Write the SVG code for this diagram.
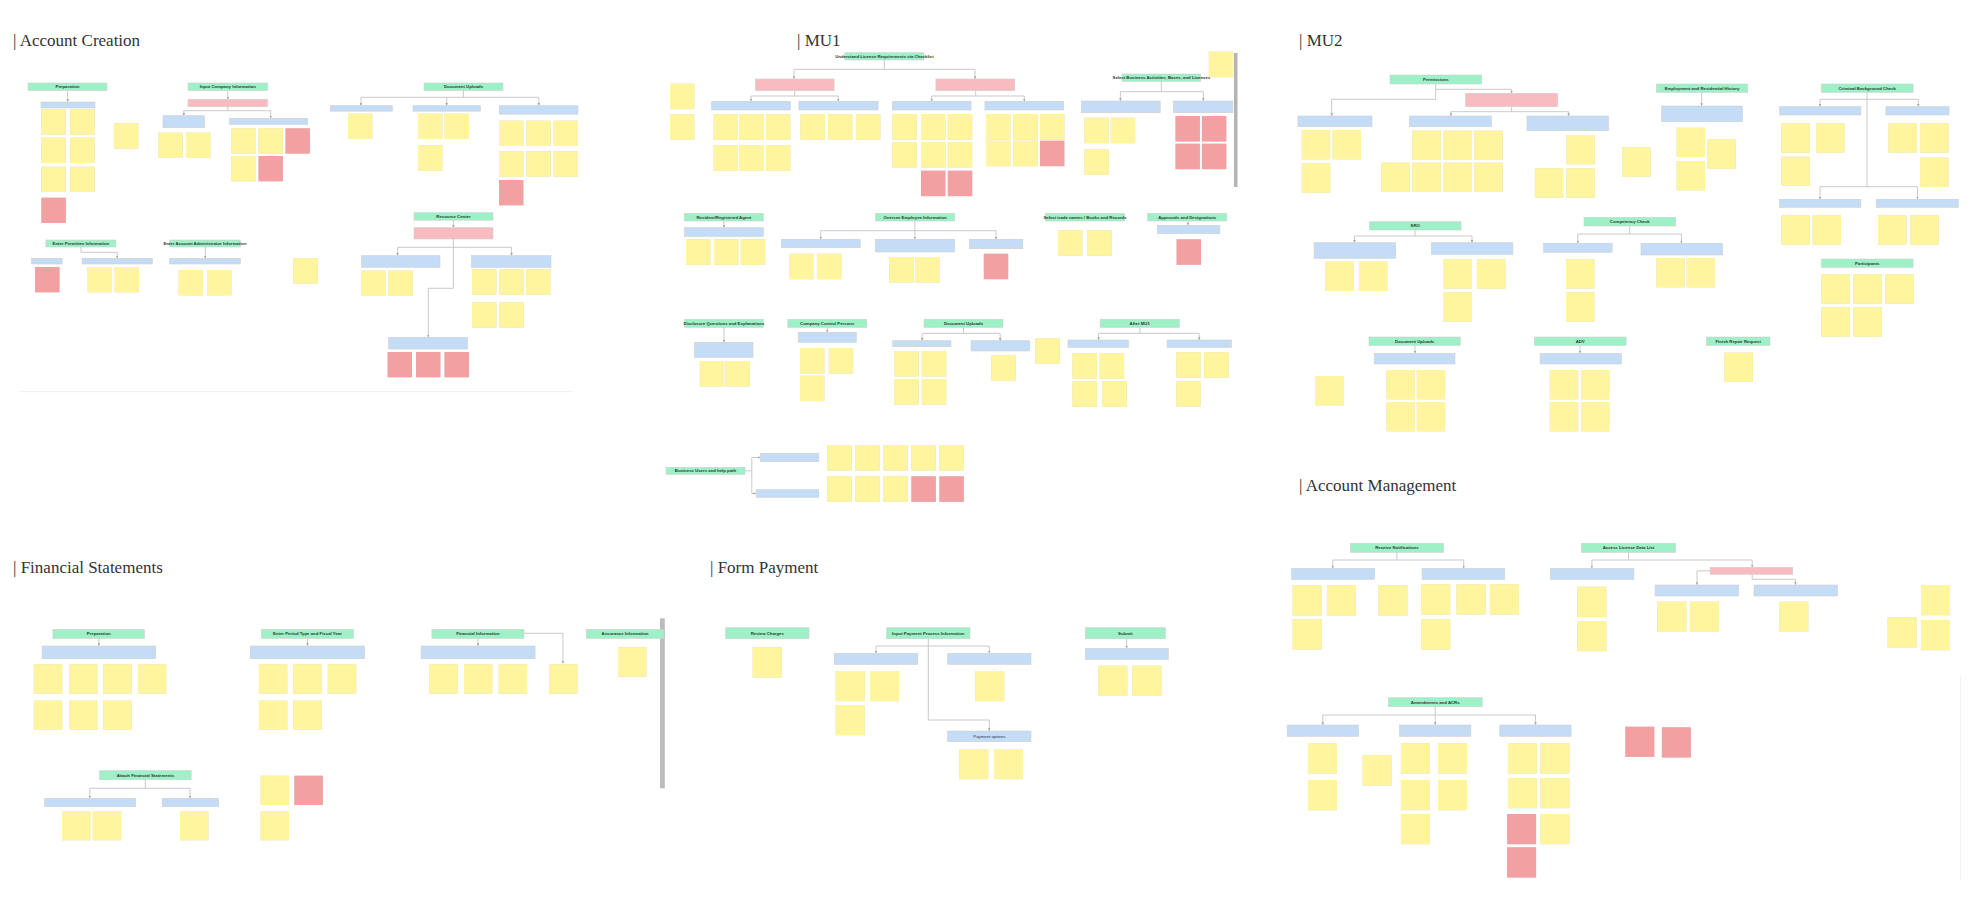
<svg xmlns="http://www.w3.org/2000/svg" width="1978" height="898" viewBox="0 0 1978 898">
<style>
.g{fill:#9ef0c6;stroke:#cfcfcf;stroke-width:.6}
.b{fill:#c5dcf6;stroke:#cfcfcf;stroke-width:.6}
.p{fill:#f8bcc0;stroke:#cfcfcf;stroke-width:.6}
.y{fill:#fff59e;filter:drop-shadow(0 .6px .5px rgba(0,0,0,.18))}
.r{fill:#f3a0a3;filter:drop-shadow(0 .6px .5px rgba(0,0,0,.18))}
.s1{width:24.4px;height:25.3px}
.s2{width:24.4px;height:25.5px}
.s3{width:28.4px;height:29.3px}
.s4{width:29px;height:30.2px}
.c{fill:none;stroke:#c4c4c4;stroke-width:.9}
.t{font-family:"Liberation Sans",Arial,sans-serif;font-weight:bold;font-size:4.3px;fill:#2b3a33;text-anchor:middle}
.bt{font-family:"Liberation Sans",Arial,sans-serif;font-size:4.3px;fill:#2b3550;text-anchor:middle}
.h{font-family:"Liberation Serif","Times New Roman",serif;font-size:17px;fill:#333}
</style>
<defs>
<marker id="a" viewBox="0 0 6 6" refX="6" refY="3" markerWidth="3" markerHeight="3" orient="auto"><path d="M0,0 L6,3 L0,6 z" fill="#a8a8a8"/></marker>
</defs>
<rect width="1978" height="898" fill="#ffffff"/>

<g id="titles">
<text class="h" x="13" y="46">| Account Creation</text>
<text class="h" x="797" y="46">| MU1</text>
<text class="h" x="1299" y="46">| MU2</text>
<text class="h" x="1299" y="491">| Account Management</text>
<text class="h" x="13" y="573">| Financial Statements</text>
<text class="h" x="710" y="573">| Form Payment</text>
</g>

<g id="connectors" marker-end="url(#a)">
<!-- Account Creation -->
<path class="c" d="M67.7 90.5 V101.7"/>
<path class="c" d="M227.8 90.5 V99.3"/>
<path class="c" d="M227.8 106.7 V110.7 H183.8 V115.7"/>
<path class="c" d="M227.8 110.7 H270.7 V118.3"/>
<path class="c" d="M463.4 90.5 V97.3 H361 V105.7"/>
<path class="c" d="M463.4 97.3 H538.8 V105.7"/>
<path class="c" d="M446.7 97.3 V105.7"/>
<path class="c" d="M453.4 220 V227.7"/>
<path class="c" d="M453.4 239 V247.3 H397.6 V255.7"/>
<path class="c" d="M453.4 247.3 H511.5 V255.7"/>
<path class="c" d="M453.4 247.3 V288.3 H428.3 V337.3"/>
<path class="c" d="M81 247 V252.3 H117.2 V258.3"/>
<path class="c" d="M205.3 247 V258.3"/>
<!-- MU1 -->
<path class="c" d="M884.3 60 V69.3 H794 V79"/>
<path class="c" d="M884.3 69.3 H975 V79"/>
<path class="c" d="M794.7 90.7 V96 H751 V101.3"/>
<path class="c" d="M794.7 96 H838.3 V101.3"/>
<path class="c" d="M975.7 90.7 V96 H931.7 V101.3"/>
<path class="c" d="M975.7 96 H1024.3 V101.3"/>
<path class="c" d="M1161.3 81.3 V91.7 H1120.4 V101"/>
<path class="c" d="M1161.3 91.7 H1203.4 V101"/>
<path class="c" d="M724 221 V227.7"/>
<path class="c" d="M914.9 221 V230.7 H820.7 V239.3"/>
<path class="c" d="M914.9 230.7 H996 V239.3"/>
<path class="c" d="M914.9 230.7 V239.3"/>
<path class="c" d="M1188 221 V225.3"/>
<path class="c" d="M724 327.3 V342.3"/>
<path class="c" d="M827.2 327.3 V332.3"/>
<path class="c" d="M963.5 327.3 V333.3 H922.2 V340.7"/>
<path class="c" d="M963.5 333.3 H1000.2 V340.7"/>
<path class="c" d="M1139.9 327.3 V333.3 H1098.6 V340"/>
<path class="c" d="M1139.9 333.3 H1199.2 V340"/>
<path class="c" d="M745 470.8 H751.8 V457.5 H760.3"/>
<path class="c" d="M751.8 470.8 V493.5 H756.1"/>
<!-- MU2 -->
<path class="c" d="M1435.7 84 V89.3 H1511.6 V93.3"/>
<path class="c" d="M1435.7 89.3 V99.3 H1331.7 V116"/>
<path class="c" d="M1511.6 106.7 V111.7 H1451 V116"/>
<path class="c" d="M1511.6 111.7 H1568.6 V116"/>
<path class="c" d="M1701.6 92.3 V106"/>
<path class="c" d="M1867 92.3 V99.3 H1820 V106.7"/>
<path class="c" d="M1867 99.3 H1918.3 V106.7"/>
<path class="c" d="M1867 99.3 V186.7 H1820 V199.3"/>
<path class="c" d="M1867 186.7 H1917.5 V199.3"/>
<path class="c" d="M1415 230 V236 H1354.5 V242.7"/>
<path class="c" d="M1415 236 H1472 V242.7"/>
<path class="c" d="M1629.6 226 V234 H1577.8 V243.3"/>
<path class="c" d="M1629.6 234 H1681.4 V243.3"/>
<path class="c" d="M1415 345.3 V353.3"/>
<path class="c" d="M1580 345.3 V353.3"/>
<!-- Account Management -->
<path class="c" d="M1396.9 552.3 V560 H1332.8 V568.3"/>
<path class="c" d="M1396.9 560 H1463.7 V568.3"/>
<path class="c" d="M1628.5 552.3 V560 H1591.9 V568.3"/>
<path class="c" d="M1628.5 560 H1752.2 V567.3"/>
<path class="c" d="M1752.2 574.3 V579.3 H1795.5 V585"/>
<path class="c" d="M1710.2 570.8 H1697 V585"/>
<path class="c" d="M1435.2 706.7 V715 H1322.8 V725"/>
<path class="c" d="M1435.2 715 H1535.5 V725"/>
<path class="c" d="M1435.2 715 V725"/>
<!-- Financial Statements -->
<path class="c" d="M98.9 638.3 V646"/>
<path class="c" d="M307.5 638.3 V646"/>
<path class="c" d="M477.9 638.3 V646"/>
<path class="c" d="M523.9 633.3 H562.9 V663.5"/>
<path class="c" d="M145.3 779.7 V788.3 H89.8 V798.3"/>
<path class="c" d="M145.3 788.3 H190 V798.3"/>
<!-- Form Payment -->
<path class="c" d="M928.3 638.7 V646 H876 V653.3"/>
<path class="c" d="M928.3 646 H989.3 V653.3"/>
<path class="c" d="M928.3 646 V720 H989.3 V731"/>
<path class="c" d="M1126.7 638.7 V648.3"/>
</g>

<g id="guides">
<path d="M20 391.7 H573" stroke="#efefef" stroke-width="1" fill="none"/>
<path d="M1960.7 677 V880" stroke="#f2f2f2" stroke-width="1" fill="none"/>
<rect x="1234" y="53" width="3.5" height="134" fill="#b4b4b4"/>
<rect x="660" y="618.3" width="4.8" height="170" fill="#bcbcbc"/>
</g>

<!-- ===================== ACCOUNT CREATION ===================== -->
<g id="ac-preparation">
<rect class="g" x="28" y="83" width="79" height="7.5"/><text class="t" x="67.5" y="88.3">Preparation</text>
<rect class="b" x="41" y="102" width="54" height="6"/>
<rect class="y s1" x="41.4" y="109.3"/><rect class="y s1" x="70.3" y="109.3"/>
<rect class="y s1" x="41.4" y="137.7"/><rect class="y s1" x="70.3" y="137.7"/>
<rect class="y s1" x="41.4" y="166.7"/><rect class="y s1" x="70.3" y="166.7"/>
<rect class="r s1" x="41.4" y="197.7"/>
<rect class="y s1" x="113.9" y="123.3"/>
</g>
<g id="ac-input-company">
<rect class="g" x="188" y="83" width="79.5" height="7.5"/><text class="t" x="227.8" y="88.3">Input Company Information</text>
<rect class="p" x="188" y="99.3" width="79.5" height="7.4"/>
<rect class="b" x="163" y="115.7" width="41.5" height="12"/>
<rect class="b" x="229.3" y="118.3" width="78.4" height="6"/>
<rect class="y s1" x="158.3" y="132.7"/><rect class="y s1" x="186" y="132.7"/>
<rect class="y s1" x="231.5" y="128.3"/><rect class="y s1" x="258.5" y="128.3"/><rect class="r s1" x="285.5" y="128.3"/>
<rect class="y s1" x="231.5" y="156"/><rect class="r s1" x="258.5" y="156"/>
</g>
<g id="ac-document-uploads">
<rect class="g" x="424" y="83" width="79" height="7.5"/><text class="t" x="463.5" y="88.3">Document Uploads</text>
<rect class="b" x="330.3" y="105.7" width="62" height="5.5"/>
<rect class="b" x="413" y="105.7" width="67.4" height="5.5"/>
<rect class="b" x="499.3" y="105.7" width="78.7" height="8.5"/>
<rect class="y s1" x="348" y="113.7"/>
<rect class="y s1" x="418" y="113.7"/><rect class="y s1" x="444.6" y="113.7"/><rect class="y s1" x="418" y="145.3"/>
<rect class="y s1" x="499" y="120.7"/><rect class="y s1" x="526.3" y="120.7"/><rect class="y s1" x="553.6" y="120.7"/>
<rect class="y s1" x="499" y="151.3"/><rect class="y s1" x="526.3" y="151.3"/><rect class="y s1" x="553.6" y="151.3"/>
<rect class="r s1" x="499" y="180"/>
</g>
<g id="ac-resource-center">
<rect class="g" x="414" y="212.7" width="79" height="7.5"/><text class="t" x="453.5" y="218">Resource Center</text>
<rect class="p" x="414" y="227.7" width="79" height="11.3"/>
<rect class="b" x="361.7" y="255.7" width="78.3" height="11.6"/>
<rect class="b" x="471.5" y="255.7" width="79.5" height="11.6"/>
<rect class="y s1" x="361" y="270.7"/><rect class="y s1" x="388.3" y="270.7"/>
<rect class="y s1" x="472" y="269.3"/><rect class="y s1" x="499.3" y="269.3"/><rect class="y s1" x="526" y="269.3"/>
<rect class="y s1" x="472" y="302.3"/><rect class="y s1" x="499.3" y="302.3"/>
<rect class="b" x="388.7" y="337.3" width="78.8" height="11.7"/>
<rect class="r s1" x="387.6" y="352"/><rect class="r s1" x="416" y="352"/><rect class="r s1" x="444.5" y="352"/>
</g>
<g id="ac-permittee">
<rect class="g" x="45.9" y="240" width="70" height="7"/><text class="t" x="80.9" y="245">Enter Permittee Information</text>
<rect class="b" x="31.4" y="258.3" width="30.7" height="5.7"/>
<rect class="b" x="82.1" y="258.3" width="70.3" height="5.7"/>
<rect class="r s1" x="35.1" y="267"/>
<rect class="y s1" x="87.6" y="267"/><rect class="y s1" x="114.6" y="267"/>
</g>
<g id="ac-admin">
<rect class="g" x="169.7" y="240" width="70.7" height="7"/><text class="t" x="205" y="245">Enter Account Administrator Information</text>
<rect class="b" x="169.7" y="258.3" width="70.7" height="5.7"/>
<rect class="y s1" x="178.6" y="270"/><rect class="y s1" x="207" y="270"/>
<rect class="y s1" x="293.3" y="258.3"/>
</g>

<!-- ===================== MU1 ===================== -->
<g id="mu1-checklist">
<rect class="g" x="844.8" y="52.7" width="79.2" height="7.3"/><text class="t" x="884.4" y="57.8">Understand License Requirements via Checklist</text>
<rect class="p" x="755.3" y="79" width="78.8" height="11.7"/>
<rect class="p" x="935.9" y="79" width="78.9" height="11.7"/>
<rect class="b" x="711.7" y="101.3" width="78.8" height="8.7"/>
<rect class="b" x="798.9" y="101.3" width="79.2" height="8.7"/>
<rect class="b" x="892.3" y="101.3" width="78.8" height="8.7"/>
<rect class="b" x="984.9" y="101.3" width="78.8" height="8.7"/>
<rect class="y s2" x="713.6" y="114.3"/><rect class="y s2" x="739.6" y="114.3"/><rect class="y s2" x="766" y="114.3"/>
<rect class="y s2" x="713.6" y="145.3"/><rect class="y s2" x="739.6" y="145.3"/><rect class="y s2" x="766" y="145.3"/>
<rect class="y s2" x="800.5" y="114.3"/><rect class="y s2" x="828" y="114.3"/><rect class="y s2" x="856" y="114.3"/>
<rect class="y s2" x="892.3" y="114"/><rect class="y s2" x="921" y="114"/><rect class="y s2" x="947.8" y="114"/>
<rect class="y s2" x="892.3" y="142"/><rect class="y s2" x="921" y="142"/><rect class="y s2" x="947.8" y="142"/>
<rect class="r s2" x="921" y="170.7"/><rect class="r s2" x="947.8" y="170.7"/>
<rect class="y s2" x="986" y="114"/><rect class="y s2" x="1013.2" y="114"/><rect class="y s2" x="1040" y="114"/>
<rect class="y s2" x="986" y="140.7"/><rect class="y s2" x="1013.2" y="140.7"/><rect class="r s2" x="1040" y="140.7"/>
<rect class="y s2" x="670" y="83.7"/><rect class="y s2" x="670" y="114.3"/>
</g>
<g id="mu1-business-activities">
<rect class="g" x="1122" y="74" width="78.8" height="7.3"/><text class="t" x="1161.4" y="79.1">Select Business Activities, Bases, and Licenses</text>
<rect class="b" x="1081.4" y="101" width="78.8" height="11.7"/>
<rect class="b" x="1173.6" y="101" width="59.3" height="11.7"/>
<rect class="y s2" x="1084.4" y="117.7"/><rect class="y s2" x="1110.8" y="117.7"/><rect class="y s2" x="1084.4" y="149.3"/>
<rect class="r s2" x="1175.5" y="116"/><rect class="r s2" x="1201.9" y="116"/>
<rect class="r s2" x="1175.5" y="143.7"/><rect class="r s2" x="1201.9" y="143.7"/>
<rect class="y s2" x="1208.8" y="51.7"/>
</g>
<g id="mu1-registered-agent">
<rect class="g" x="684.5" y="213.3" width="78.8" height="7.7"/><text class="t" x="723.9" y="218.6">Resident/Registered Agent</text>
<rect class="b" x="684.5" y="227.7" width="78.8" height="8.6"/>
<rect class="y s2" x="686" y="239.3"/><rect class="y s2" x="714" y="239.3"/><rect class="y s2" x="740.8" y="239.3"/>
</g>
<g id="mu1-employee">
<rect class="g" x="875.5" y="213.3" width="79.2" height="7.7"/><text class="t" x="915.1" y="218.6">Oversee Employee Information</text>
<rect class="b" x="781.3" y="239.3" width="78.9" height="8.4"/>
<rect class="b" x="875.5" y="239.3" width="79.2" height="12.7"/>
<rect class="b" x="969.6" y="239.3" width="53.2" height="9.4"/>
<rect class="y s2" x="789" y="253.7"/><rect class="y s2" x="816.9" y="253.7"/>
<rect class="y s2" x="889.2" y="257"/><rect class="y s2" x="915.6" y="257"/>
<rect class="r s2" x="983.8" y="253.7"/>
</g>
<g id="mu1-trade-names">
<rect class="g" x="1045.4" y="213.3" width="79.2" height="7.7"/><text class="t" x="1085" y="218.6">Select trade names / Books and Records</text>
<rect class="y s2" x="1058" y="230.3"/><rect class="y s2" x="1087.1" y="230.3"/>
</g>
<g id="mu1-approvals">
<rect class="g" x="1147.6" y="213.3" width="79.2" height="7.7"/><text class="t" x="1187.2" y="218.6">Approvals and Designations</text>
<rect class="b" x="1157.5" y="225.3" width="62.4" height="8.4"/>
<rect class="r s2" x="1176.6" y="239.3"/>
</g>
<g id="mu1-disclosure">
<rect class="g" x="684.5" y="319.3" width="78.8" height="8"/><text class="t" x="723.9" y="324.8">Disclosure Questions and Explanations</text>
<rect class="b" x="694.4" y="342.3" width="58.6" height="15"/>
<rect class="y s2" x="699.8" y="361"/><rect class="y s2" x="725.4" y="361"/>
</g>
<g id="mu1-control-persons">
<rect class="g" x="787.8" y="319.3" width="78.9" height="8"/><text class="t" x="827.2" y="324.8">Company Control Persons</text>
<rect class="b" x="798.2" y="332.3" width="58.1" height="10"/>
<rect class="y s2" x="800" y="348"/><rect class="y s2" x="828.8" y="348"/><rect class="y s2" x="800" y="375.7"/>
</g>
<g id="mu1-document-uploads">
<rect class="g" x="924" y="319.3" width="78.9" height="8"/><text class="t" x="963.5" y="324.8">Document Uploads</text>
<rect class="b" x="892.7" y="340.7" width="58.2" height="6"/>
<rect class="b" x="971.1" y="340.7" width="58.6" height="10.3"/>
<rect class="y s2" x="894.2" y="351"/><rect class="y s2" x="921.8" y="351"/>
<rect class="y s2" x="894.2" y="379"/><rect class="y s2" x="921.8" y="379"/>
<rect class="y s2" x="991.4" y="355.3"/>
<rect class="y s2" x="1035.4" y="338.3"/>
</g>
<g id="mu1-after">
<rect class="g" x="1100.1" y="319.3" width="79.2" height="8"/><text class="t" x="1139.7" y="324.8">After MU1</text>
<rect class="b" x="1068" y="340" width="60.4" height="7.3"/>
<rect class="b" x="1167.1" y="340" width="64.3" height="7.3"/>
<rect class="y s2" x="1072.5" y="353.3"/><rect class="y s2" x="1099.7" y="353.3"/>
<rect class="y s2" x="1072.5" y="381.3"/><rect class="y s2" x="1102.3" y="381.3"/>
<rect class="y s2" x="1176.3" y="352.3"/><rect class="y s2" x="1204.2" y="352.3"/><rect class="y s2" x="1176.3" y="381"/>
</g>
<g id="mu1-help-path">
<rect class="g" x="666.1" y="467.3" width="78.9" height="7"/><text class="t" x="705.5" y="472.3">Business Users and help path</text>
<rect class="b" x="760.3" y="453.3" width="58.5" height="8.4"/>
<rect class="b" x="756.1" y="489.7" width="62.7" height="7.6"/>
<rect class="y s2" x="827.2" y="445"/><rect class="y s2" x="855.2" y="445"/><rect class="y s2" x="883.5" y="445"/><rect class="y s2" x="911.4" y="445"/><rect class="y s2" x="939.4" y="445"/>
<rect class="y s2" x="827.2" y="476.3"/><rect class="y s2" x="855.2" y="476.3"/><rect class="y s2" x="883.5" y="476.3"/><rect class="r s2" x="911.4" y="476.3"/><rect class="r s2" x="939.4" y="476.3"/>
</g>

<!-- ===================== MU2 ===================== -->
<g id="mu2-permissions">
<rect class="g" x="1390" y="75" width="91.7" height="9"/><text class="t" x="1435.8" y="81">Permissions</text>
<rect class="p" x="1465.5" y="93.3" width="92.2" height="13.4"/>
<rect class="b" x="1297.9" y="116" width="74.1" height="10.7"/>
<rect class="b" x="1409.4" y="116" width="82" height="10.7"/>
<rect class="b" x="1527" y="116" width="81.6" height="14.7"/>
<rect class="y s3" x="1301.8" y="130"/><rect class="y s3" x="1332.6" y="130"/><rect class="y s3" x="1301.8" y="163.3"/>
<rect class="y s3" x="1412.4" y="130.7"/><rect class="y s3" x="1443.6" y="130.7"/><rect class="y s3" x="1474.3" y="130.7"/>
<rect class="y s3" x="1381.3" y="162.7"/><rect class="y s3" x="1412.4" y="162.7"/><rect class="y s3" x="1443.6" y="162.7"/><rect class="y s3" x="1474.3" y="162.7"/>
<rect class="y s3" x="1566.4" y="135"/><rect class="y s3" x="1534.8" y="168.3"/><rect class="y s3" x="1566.4" y="168.3"/>
<rect class="y s3" x="1622.2" y="147.3"/>
</g>
<g id="mu2-employment">
<rect class="g" x="1656.4" y="84" width="91.3" height="8.3"/><text class="t" x="1702" y="89.7">Employment and Residential History</text>
<rect class="b" x="1661.7" y="106" width="80.7" height="15.7"/>
<rect class="y s3" x="1676.6" y="127.7"/><rect class="y s3" x="1707.3" y="139.3"/><rect class="y s3" x="1676.6" y="161"/>
</g>
<g id="mu2-criminal">
<rect class="g" x="1821.4" y="84" width="91.7" height="8.3"/><text class="t" x="1867.2" y="89.7">Criminal Background Check</text>
<rect class="b" x="1779.7" y="106.7" width="81.2" height="8.3"/>
<rect class="b" x="1885.9" y="106.7" width="63.2" height="8.3"/>
<rect class="y s3" x="1781.4" y="123.3"/><rect class="y s3" x="1816.1" y="123.3"/><rect class="y s3" x="1781.4" y="156.7"/>
<rect class="y s3" x="1888.5" y="123.3"/><rect class="y s3" x="1920.1" y="123.3"/><rect class="y s3" x="1920.1" y="157.7"/>
<rect class="b" x="1779.7" y="199.3" width="81.2" height="8"/>
<rect class="b" x="1876.2" y="199.3" width="82.1" height="8"/>
<rect class="y s3" x="1781.4" y="215.3"/><rect class="y s3" x="1812.6" y="215.3"/>
<rect class="y s3" x="1878" y="215.3"/><rect class="y s3" x="1910.4" y="215.3"/>
</g>
<g id="mu2-sro">
<rect class="g" x="1369.4" y="221.7" width="91.7" height="8.3"/><text class="t" x="1415.2" y="227.4">SRO</text>
<rect class="b" x="1314.1" y="242.7" width="81.6" height="15.6"/>
<rect class="b" x="1431.3" y="242.7" width="81.6" height="11.6"/>
<rect class="y s3" x="1325.5" y="261.7"/><rect class="y s3" x="1358.9" y="261.7"/>
<rect class="y s3" x="1443.6" y="259.3"/><rect class="y s3" x="1476.9" y="259.3"/><rect class="y s3" x="1443.6" y="292.3"/>
</g>
<g id="mu2-competency">
<rect class="g" x="1584" y="217.3" width="91.7" height="8.7"/><text class="t" x="1629.8" y="223.2">Competency Check</text>
<rect class="b" x="1543.6" y="243.3" width="68.5" height="9"/>
<rect class="b" x="1641" y="243.3" width="81.6" height="11.7"/>
<rect class="y s3" x="1566" y="259.3"/><rect class="y s3" x="1566" y="292.3"/>
<rect class="y s3" x="1656.4" y="258"/><rect class="y s3" x="1686.7" y="258"/>
</g>
<g id="mu2-participants">
<rect class="g" x="1821.4" y="259" width="91.7" height="8.3"/><text class="t" x="1867.2" y="264.7">Participants</text>
<rect class="y s3" x="1821.4" y="274.3"/><rect class="y s3" x="1853.4" y="274.3"/><rect class="y s3" x="1885.4" y="274.3"/>
<rect class="y s3" x="1821.4" y="307.3"/><rect class="y s3" x="1853.4" y="307.3"/>
</g>
<g id="mu2-document-uploads">
<rect class="g" x="1369" y="337" width="91.2" height="8.3"/><text class="t" x="1414.6" y="342.7">Document Uploads</text>
<rect class="b" x="1374.2" y="353.3" width="80.8" height="10.7"/>
<rect class="y s3" x="1386.5" y="370"/><rect class="y s3" x="1416.8" y="370"/>
<rect class="y s3" x="1386.5" y="402"/><rect class="y s3" x="1416.8" y="402"/>
<rect class="y s3" x="1315" y="376"/>
</g>
<g id="mu2-adv">
<rect class="g" x="1534.4" y="337" width="91.7" height="8.3"/><text class="t" x="1580.2" y="342.7">ADV</text>
<rect class="b" x="1540.1" y="353.3" width="81.2" height="10.7"/>
<rect class="y s3" x="1549.8" y="370"/><rect class="y s3" x="1580.9" y="370"/>
<rect class="y s3" x="1549.8" y="402"/><rect class="y s3" x="1580.9" y="402"/>
</g>
<g id="mu2-repair">
<rect class="g" x="1706.4" y="337" width="63.6" height="8.3"/><text class="t" x="1738.2" y="342.7">Finish Repair Request</text>
<rect class="y s3" x="1724.4" y="352.7"/>
</g>

<!-- ===================== ACCOUNT MANAGEMENT ===================== -->
<g id="am-notifications">
<rect class="g" x="1350.4" y="543.3" width="93" height="9"/><text class="t" x="1396.9" y="549.3">Receive Notifications</text>
<rect class="b" x="1291.7" y="568.3" width="83" height="11"/>
<rect class="b" x="1422.1" y="568.3" width="82.7" height="11"/>
<rect class="y s4" x="1292.6" y="585.3"/><rect class="y s4" x="1326.9" y="585.3"/><rect class="y s4" x="1292.6" y="619.3"/>
<rect class="y s4" x="1378.4" y="585.3"/>
<rect class="y s4" x="1421.2" y="584.3"/><rect class="y s4" x="1456.5" y="584.3"/><rect class="y s4" x="1489.9" y="584.3"/>
<rect class="y s4" x="1421.2" y="619.3"/>
</g>
<g id="am-license-data">
<rect class="g" x="1581.5" y="543.3" width="93.9" height="9"/><text class="t" x="1628.5" y="549.3">Access License Data List</text>
<rect class="b" x="1550.4" y="568.3" width="83.5" height="11"/>
<rect class="p" x="1710.2" y="567.3" width="82.6" height="7"/>
<rect class="b" x="1655.1" y="585" width="83.5" height="11"/>
<rect class="b" x="1754" y="585" width="83.5" height="11"/>
<rect class="y s4" x="1577.4" y="586.7"/><rect class="y s4" x="1577.4" y="621"/>
<rect class="y s4" x="1657.4" y="601.7"/><rect class="y s4" x="1689.9" y="601.7"/>
<rect class="y s4" x="1779.3" y="601.7"/>
<rect class="y s4" x="1921" y="585"/><rect class="y s4" x="1887.6" y="617.3"/><rect class="y s4" x="1921" y="620"/>
</g>
<g id="am-amendments">
<rect class="g" x="1388.3" y="697.7" width="93.9" height="9"/><text class="t" x="1435.2" y="703.7">Amendments and ACRs</text>
<rect class="b" x="1287.2" y="725" width="71.3" height="11.3"/>
<rect class="b" x="1399.6" y="725" width="71.3" height="11.3"/>
<rect class="b" x="1499.8" y="725" width="71.3" height="11.3"/>
<rect class="y s4" x="1307.9" y="743.3"/><rect class="y s4" x="1307.9" y="780"/>
<rect class="y s4" x="1362.6" y="755.3"/>
<rect class="y s4" x="1400.9" y="743.3"/><rect class="y s4" x="1438" y="743.3"/>
<rect class="y s4" x="1400.9" y="780"/><rect class="y s4" x="1438" y="780"/>
<rect class="y s4" x="1400.9" y="814"/>
<rect class="y s4" x="1507.9" y="743.3"/><rect class="y s4" x="1540.4" y="743.3"/>
<rect class="y s4" x="1507.9" y="778"/><rect class="y s4" x="1540.4" y="778"/>
<rect class="r s4" x="1507.1" y="814"/><rect class="y s4" x="1540.4" y="814"/>
<rect class="r s4" x="1507.1" y="847.3"/>
<rect class="r s4" x="1625.3" y="726.7"/><rect class="r s4" x="1661.9" y="727.3"/>
</g>

<!-- ===================== FINANCIAL STATEMENTS ===================== -->
<g id="fs-preparation">
<rect class="g" x="52.9" y="629.3" width="91.5" height="9"/><text class="t" x="98.7" y="635.3">Preparation</text>
<rect class="b" x="42.1" y="646" width="113.6" height="12.7"/>
<rect class="y s3" x="33.8" y="664.3"/><rect class="y s3" x="69" y="664.3"/><rect class="y s3" x="103.2" y="664.3"/><rect class="y s3" x="137.9" y="664.3"/>
<rect class="y s3" x="33.8" y="700.7"/><rect class="y s3" x="69" y="700.7"/><rect class="y s3" x="103.2" y="700.7"/>
</g>
<g id="fs-period">
<rect class="g" x="261.5" y="629.3" width="91.9" height="9"/><text class="t" x="307.5" y="635.3">Enter Period Type and Fiscal Year</text>
<rect class="b" x="250.2" y="646" width="114.5" height="12.7"/>
<rect class="y s3" x="258.9" y="664.3"/><rect class="y s3" x="293.2" y="664.3"/><rect class="y s3" x="327.8" y="664.3"/>
<rect class="y s3" x="258.9" y="700.7"/><rect class="y s3" x="293.2" y="700.7"/>
</g>
<g id="fs-financial-info">
<rect class="g" x="431.9" y="629.3" width="92" height="9"/><text class="t" x="477.9" y="635.3">Financial Information</text>
<rect class="b" x="421.1" y="646" width="114" height="12.7"/>
<rect class="y s3" x="429.3" y="664.3"/><rect class="y s3" x="464" y="664.3"/><rect class="y s3" x="498.7" y="664.3"/>
<rect class="y s3" x="549" y="664.3"/>
</g>
<g id="fs-assurance">
<rect class="g" x="586.3" y="629.3" width="77.6" height="9"/><text class="t" x="625" y="635.3">Assurance Information</text>
<rect class="y s3" x="618" y="647.3"/>
</g>
<g id="fs-attach">
<rect class="g" x="99.7" y="770.7" width="91.5" height="9"/><text class="t" x="145.4" y="776.7">Attach Financial Statements</text>
<rect class="b" x="44.7" y="798.3" width="91" height="8.4"/>
<rect class="b" x="162.2" y="798.3" width="56.4" height="8.4"/>
<rect class="y s3" x="62" y="811"/><rect class="y s3" x="92.8" y="811"/>
<rect class="y s3" x="180" y="811"/>
<rect class="y s3" x="260.6" y="775.7"/><rect class="r s3" x="294.4" y="775.7"/><rect class="y s3" x="260.6" y="811"/>
</g>

<!-- ===================== FORM PAYMENT ===================== -->
<g id="fp-charges">
<rect class="g" x="725.7" y="627.7" width="83.3" height="11"/><text class="t" x="767.3" y="634.7">Review Charges</text>
<rect class="y s4" x="752.7" y="647.3"/>
</g>
<g id="fp-input-payment">
<rect class="g" x="886.7" y="627.7" width="83.3" height="11"/><text class="t" x="928.3" y="634.7">Input Payment Process Information</text>
<rect class="b" x="834.3" y="653.3" width="83.4" height="11"/>
<rect class="b" x="947.7" y="653.3" width="83.3" height="11"/>
<rect class="b" x="947.7" y="731" width="83.3" height="10.7"/><text class="bt" x="989.3" y="737.8">Payment options</text>
<rect class="y s4" x="835.7" y="671"/><rect class="y s4" x="870" y="671"/><rect class="y s4" x="835.7" y="705"/>
<rect class="y s4" x="975.3" y="671"/>
<rect class="y s4" x="959.3" y="749"/><rect class="y s4" x="994" y="749"/>
</g>
<g id="fp-submit">
<rect class="g" x="1085.3" y="627.7" width="80" height="11"/><text class="t" x="1125.3" y="634.7">Submit</text>
<rect class="b" x="1085.3" y="648.3" width="83" height="11"/>
<rect class="y s4" x="1098.3" y="665.7"/><rect class="y s4" x="1132.3" y="665.7"/>
</g>
</svg>
